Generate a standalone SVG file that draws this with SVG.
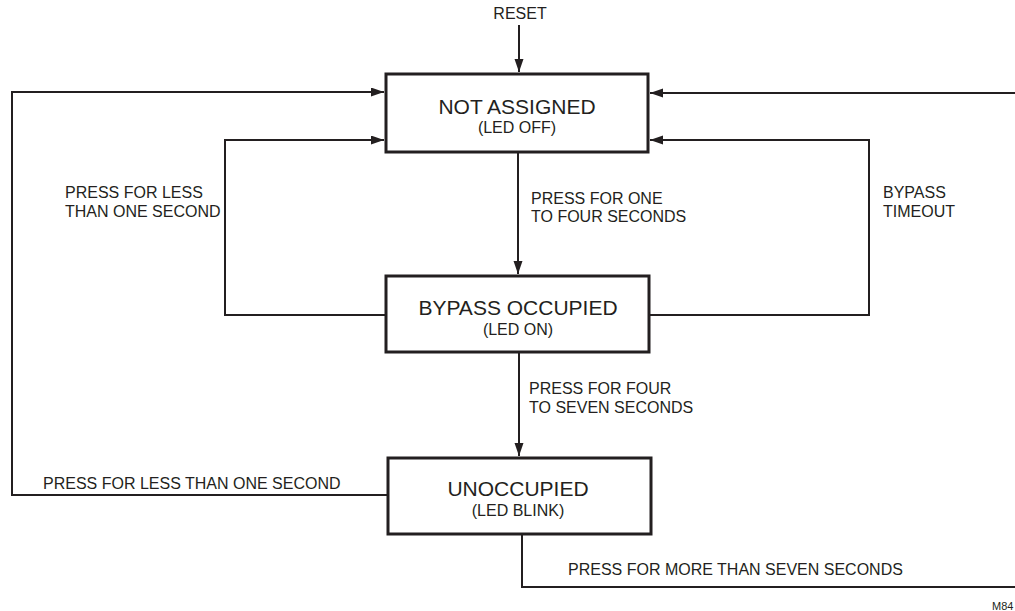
<svg xmlns="http://www.w3.org/2000/svg" width="1015" height="611" viewBox="0 0 1015 611">
<style>
text{font-family:"Liberation Sans",Arial,sans-serif;fill:#231f20}
.t{font-size:21px;text-anchor:middle}
.s{font-size:16px;text-anchor:middle}
.l{font-size:16px}
.box{fill:#fff;stroke:#231f20;stroke-width:3}
.c{fill:none;stroke:#231f20;stroke-width:2}
</style>
<defs>
<marker id="arr" markerUnits="userSpaceOnUse" markerWidth="14" markerHeight="10" refX="13" refY="4.5" orient="auto">
<path d="M0,0 L13,4.5 L0,9 z" fill="#231f20"/>
</marker>
</defs>
<g id="connectors">
<path class="c" d="M519,25 V72" marker-end="url(#arr)"/>
<path class="c" d="M518,152 V274" marker-end="url(#arr)"/>
<path class="c" d="M519,352 V456" marker-end="url(#arr)"/>
<path class="c" d="M388,495 H12 V92 H384" marker-end="url(#arr)"/>
<path class="c" d="M386,315 H225 V140 H384" marker-end="url(#arr)"/>
<path class="c" d="M649,315 H869 V140 H650" marker-end="url(#arr)"/>
<path class="c" d="M522,534 V587 H1030 V93 H650" marker-end="url(#arr)"/>
</g>
<g id="labels">
<text class="l" x="520" y="19" text-anchor="middle">RESET</text>
<text class="l" x="531" y="204">PRESS FOR ONE</text>
<text class="l" x="531" y="222">TO FOUR SECONDS</text>
<text class="l" x="529" y="394">PRESS FOR FOUR</text>
<text class="l" x="529" y="413">TO SEVEN SECONDS</text>
<text class="l" x="65" y="198">PRESS FOR LESS</text>
<text class="l" x="65" y="217">THAN ONE SECOND</text>
<text class="l" x="883" y="198">BYPASS</text>
<text class="l" x="883" y="217">TIMEOUT</text>
<text class="l" x="43" y="489">PRESS FOR LESS THAN ONE SECOND</text>
<text class="l" x="568" y="575">PRESS FOR MORE THAN SEVEN SECONDS</text>
<text x="992" y="610" font-size="11">M84</text>
</g>
<g id="not-assigned">
<rect class="box" x="386" y="74" width="262" height="78"/>
<text class="t" x="517" y="114">NOT ASSIGNED</text>
<text class="s" x="517" y="133">(LED OFF)</text>
</g>
<g id="bypass-occupied">
<rect class="box" x="386" y="276" width="263" height="76"/>
<text class="t" x="518" y="315">BYPASS OCCUPIED</text>
<text class="s" x="518" y="335">(LED ON)</text>
</g>
<g id="unoccupied">
<rect class="box" x="388" y="458" width="263" height="76"/>
<text class="t" x="518" y="496">UNOCCUPIED</text>
<text class="s" x="518" y="516">(LED BLINK)</text>
</g>
</svg>
